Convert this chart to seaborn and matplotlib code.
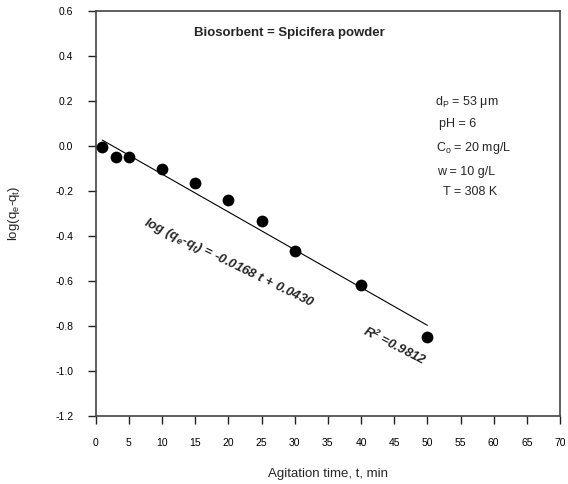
import matplotlib
matplotlib.use("Agg")
import matplotlib.pyplot as plt
import seaborn as sns
import pandas as pd

# ---- data ----
time_min = [1, 3, 5, 10, 15, 20, 25, 30, 40, 50]
log_qe_qt = [-0.005, -0.049, -0.049, -0.104, -0.164, -0.240, -0.333, -0.467, -0.618, -0.849]
fit_slope = -0.0168
fit_intercept = 0.0430
fit_t = [1, 50]
r_squared = 0.9812
x_ticks = list(range(0, 75, 5))
y_ticks = [0.6, 0.4, 0.2, 0.0, -0.2, -0.4, -0.6, -0.8, -1.0, -1.2]
y_tick_labels = ["0.6", "0.4", "0.2", "0.0", "-0.2", "-0.4", "-0.6", "-0.8", "-1.0", "-1.2"]
conditions = ["d$_P$ = 53 \u03bcm", "pH = 6", "C$_o$ = 20 mg/L", "w = 10 g/L", "T = 308 K"]
cond_x = [51.2, 51.8, 51.3, 51.45, 52.4]
cond_y = [0.196, 0.098, -0.009, -0.116, -0.204]

sns.set_theme(style="ticks")
plt.rcParams["font.family"] = ["Liberation Sans", "DejaVu Sans"]
plt.rcParams["mathtext.default"] = "regular"

df = pd.DataFrame({"t": time_min, "y": log_qe_qt})
fit_df = pd.DataFrame({"t": fit_t, "y": [fit_intercept + fit_slope * t for t in fit_t]})

fig = plt.figure(figsize=(5.68, 4.84), dpi=100)
ax = fig.add_axes([0.1685, 0.1405, 0.8174, 0.8368])

sns.lineplot(data=fit_df, x="t", y="y", ax=ax, color="black", linewidth=0.8)
sns.scatterplot(data=df, x="t", y="y", ax=ax, color="black", s=72, linewidth=0, zorder=3)

ax.set_xlim(0, 70)
ax.set_ylim(-1.2, 0.6)
ax.set_xticks(x_ticks)
ax.set_xticklabels([str(v) for v in x_ticks])
ax.set_yticks(y_ticks)
ax.set_yticklabels(y_tick_labels)
ax.tick_params(direction="out", length=6, width=1, colors="#222222",
               labelsize=7.5, labelcolor="black")
ax.tick_params(axis="x", pad=10)
ax.tick_params(axis="y", pad=10)
for sp in ax.spines.values():
    sp.set_visible(True)
    sp.set_color("#444444")
    sp.set_linewidth(1.2)

ax.set_xlabel("Agitation time, t, min", fontsize=9.5, labelpad=14)
ax.set_ylabel("log(q$_e$-q$_t$)", fontsize=9.5, labelpad=24)

ax.text(29.15, 0.502, "Biosorbent = Spicifera powder", fontsize=9.5,
        fontweight="bold", ha="center", va="center")

for txt, cx, cy in zip(conditions, cond_x, cond_y):
    ax.text(cx, cy, txt, fontsize=9, ha="left", va="center")

ax.text(20.1, -0.52, "log (q$_e$-q$_t$) = %.4f t + %.4f" % (fit_slope, fit_intercept),
        fontsize=9.5, fontweight="bold", fontstyle="italic",
        rotation=-26, rotation_mode="anchor", ha="center", va="center")
ax.text(45.1, -0.889, "R$^2$ =%.4f" % r_squared,
        fontsize=9.5, fontweight="bold", fontstyle="italic",
        rotation=-27, rotation_mode="anchor", ha="center", va="center")

fig.savefig("out.png", dpi=100)
